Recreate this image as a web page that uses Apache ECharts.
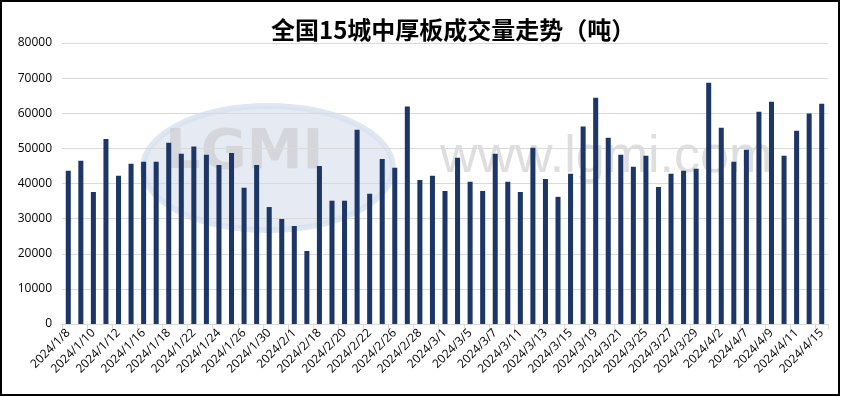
<!DOCTYPE html>
<html>
<head>
<meta charset="utf-8">
<style>
html, body { margin: 0; padding: 0; background: #fff; }
#chart { width: 843px; height: 397px; }
</style>
<script src="https://cdn.jsdelivr.net/npm/echarts@6/dist/echarts.min.js"></script>
</head>
<body>
<div id="chart"></div>
<script>
// 日期（交易日）
var dates = [
    "2024/1/8", "2024/1/9", "2024/1/10", "2024/1/11", "2024/1/12",
    "2024/1/15", "2024/1/16", "2024/1/17", "2024/1/18", "2024/1/19",
    "2024/1/22", "2024/1/23", "2024/1/24", "2024/1/25", "2024/1/26",
    "2024/1/29", "2024/1/30", "2024/1/31", "2024/2/1", "2024/2/2",
    "2024/2/18", "2024/2/19", "2024/2/20", "2024/2/21", "2024/2/22",
    "2024/2/23", "2024/2/26", "2024/2/27", "2024/2/28", "2024/2/29",
    "2024/3/1", "2024/3/4", "2024/3/5", "2024/3/6", "2024/3/7",
    "2024/3/8", "2024/3/11", "2024/3/12", "2024/3/13", "2024/3/14",
    "2024/3/15", "2024/3/18", "2024/3/19", "2024/3/20", "2024/3/21",
    "2024/3/22", "2024/3/25", "2024/3/26", "2024/3/27", "2024/3/28",
    "2024/3/29", "2024/4/1", "2024/4/2", "2024/4/3", "2024/4/7",
    "2024/4/8", "2024/4/9", "2024/4/10", "2024/4/11", "2024/4/12",
    "2024/4/15"
];
// 成交量（吨）
var volumes = [
    43600, 46500, 37600, 52700, 42200,
    45600, 46200, 46200, 51600, 48500,
    50500, 48200, 45300, 48700, 38800,
    45300, 33300, 29900, 27900, 20800,
    45000, 35100, 35100, 55300, 37100,
    47000, 44500, 61900, 41000, 42200,
    37900, 47300, 40500, 37900, 48500,
    40500, 37600, 50200, 41300, 36200,
    42800, 56200, 64400, 53000, 48200,
    44800, 47900, 39000, 42800, 43600,
    44200, 68700, 55900, 46200, 49600,
    60400, 63300, 47900, 55000, 59900,
    62700
];
var titleText = "全国15城中厚板成交量走势（吨）";
var yMax = 80000;
var yStep = 10000;

(function() {
    var myChart = echarts.init(document.getElementById("chart"));
    var option = {
        backgroundColor: "#fff",
        animation: false,
        title: {
            text: titleText,
            left: 266,
            top: 13,
            textStyle: {
                fontFamily: "Noto Sans CJK SC",
                fontSize: 24,
                fontWeight: "bold",
                color: "#000"
            }
        },
        grid: {
            left: 62,
            right: 15,
            top: 43,
            bottom: 73
        },
        // 水印 + 外边框
        graphic: [
            {
                type: "rect",
                shape: { x: 1, y: 1, width: 838, height: 394 },
                style: { fill: "none", stroke: "#000", lineWidth: 2 },
                z: 100
            },
            {
                type: "ellipse",
                shape: { cx: 268, cy: 168, rx: 125, ry: 62 },
                style: { fill: "rgba(205,216,232,0.5)", stroke: "rgba(215,225,238,0.8)", lineWidth: 6 },
                z: -1
            },
            {
                type: "ellipse",
                shape: { cx: 275, cy: 172, rx: 100, ry: 45 },
                style: { fill: "rgba(228,234,243,0.6)" },
                z: -1
            },
            {
                type: "text",
                left: 165,
                top: 125,
                style: {
                    text: "LGMI",
                    fontFamily: "DejaVu Sans",
                    fontSize: 56,
                    fontWeight: "bold",
                    fill: "rgba(190,190,190,0.45)"
                },
                z: -1
            },
            {
                type: "text",
                left: 440,
                top: 132,
                style: {
                    text: "www.lgmi.com",
                    fontFamily: "Liberation Sans",
                    fontSize: 52,
                    fill: "rgba(200,200,200,0.6)"
                },
                z: -1
            }
        ],
        xAxis: {
            type: "category",
            data: dates,
            boundaryGap: true,
            axisLine: { lineStyle: { color: "#d9d9d9" } },
            axisTick: { show: true, length: 5, lineStyle: { color: "#d9d9d9" } },
            axisLabel: {
                interval: 1,
                rotate: 45,
                fontSize: 12,
                color: "#000",
                fontFamily: "Open Sans",
                fontWeight: 500,
                margin: 7
            }
        },
        yAxis: {
            type: "value",
            min: 0,
            max: yMax,
            interval: yStep,
            axisLine: { show: false },
            axisTick: { show: false },
            axisLabel: {
                fontSize: 12,
                color: "#000",
                fontFamily: "Open Sans",
                fontWeight: 500,
                margin: 10,
                formatter: function(v) { return String(v); }
            },
            splitLine: { lineStyle: { color: "#d9d9d9" } }
        },
        series: [{
            name: "成交量",
            type: "bar",
            data: volumes,
            barWidth: "40%",
            itemStyle: { color: "#1c3668" }
        }]
    };
    myChart.setOption(option);
})();
</script>
</body>
</html>
